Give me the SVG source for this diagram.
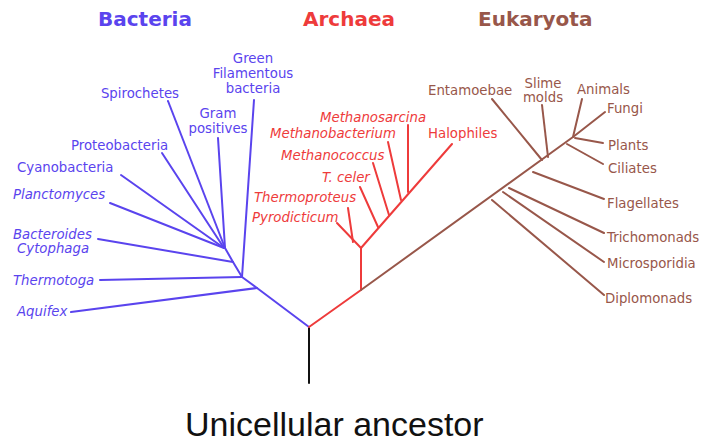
<svg xmlns="http://www.w3.org/2000/svg" width="707" height="443" viewBox="0 0 707 443">
<style>
.t{font-family:"DejaVu Sans",sans-serif;font-size:13.3px}
.i{font-style:italic}
.h{font-family:"DejaVu Sans",sans-serif;font-size:20px;font-weight:bold}
.b{fill:#5a44ee}.r{fill:#ee3b3b}.e{fill:#98574a}
.lb{stroke:#5a44ee}.lr{stroke:#ee3b3b}.le{stroke:#98574a}
line,polyline{stroke-width:2;fill:none;stroke-linecap:round;stroke-linejoin:round}
</style>
<rect width="707" height="443" fill="#ffffff"/>
<g id="connectors">
<line x1="309" y1="327" x2="309" y2="383" stroke="#111111"/>
<polyline class="lb" points="309,327 257,288 242,277 233,262 225,248"/>
<line class="lb" x1="254" y1="100" x2="242" y2="277"/>
<line class="lb" x1="218" y1="138" x2="225" y2="248"/>
<line class="lb" x1="168" y1="101" x2="225" y2="248"/>
<line class="lb" x1="162" y1="153" x2="224" y2="248"/>
<line class="lb" x1="121" y1="175" x2="224" y2="248"/>
<line class="lb" x1="110" y1="203" x2="224" y2="248"/>
<line class="lb" x1="98" y1="239" x2="233" y2="262"/>
<line class="lb" x1="100" y1="280" x2="242" y2="277"/>
<line class="lb" x1="71" y1="312" x2="257" y2="288"/>
<polyline class="lr" points="309,327 361,290 361,248 452,144"/>
<line class="lr" x1="337" y1="223" x2="361" y2="248"/>
<line class="lr" x1="348" y1="208" x2="353" y2="242"/>
<line class="lr" x1="360" y1="187" x2="378" y2="227"/>
<line class="lr" x1="373" y1="163" x2="389" y2="215"/>
<line class="lr" x1="388" y1="142" x2="401" y2="200"/>
<line class="lr" x1="408" y1="125" x2="408" y2="192"/>
<polyline class="le" points="361,290 573,137 605,112"/>
<line class="le" x1="492" y1="99" x2="542" y2="160"/>
<line class="le" x1="542" y1="105" x2="548" y2="157"/>
<line class="le" x1="582" y1="99" x2="573" y2="137"/>
<line class="le" x1="603" y1="143" x2="575" y2="138"/>
<line class="le" x1="603" y1="164" x2="567" y2="144"/>
<line class="le" x1="604" y1="199" x2="533" y2="172"/>
<line class="le" x1="604" y1="233" x2="509" y2="188"/>
<line class="le" x1="604" y1="262" x2="503" y2="192"/>
<line class="le" x1="604" y1="295" x2="492" y2="200"/>
</g>
<g id="titles">
<text class="h b" x="98" y="26">Bacteria</text>
<text class="h r" x="303" y="26">Archaea</text>
<text class="h e" x="478" y="26">Eukaryota</text>
</g>
<g id="bacteria" class="t b">
<text x="253" y="63" text-anchor="middle">Green</text>
<text x="253" y="78" text-anchor="middle">Filamentous</text>
<text x="253" y="93" text-anchor="middle">bacteria</text>
<text x="140" y="98" text-anchor="middle">Spirochetes</text>
<text x="218" y="118" text-anchor="middle">Gram</text>
<text x="218" y="133" text-anchor="middle">positives</text>
<text x="71" y="150">Proteobacteria</text>
<text x="17" y="172">Cyanobacteria</text>
<text class="i" x="13" y="199">Planctomyces</text>
<text class="i" x="13" y="239">Bacteroides</text>
<text class="i" x="17" y="253">Cytophaga</text>
<text class="i" x="13" y="285">Thermotoga</text>
<text class="i" x="17" y="316">Aquifex</text>
</g>
<g id="archaea" class="t r">
<text class="i" x="320" y="122">Methanosarcina</text>
<text class="i" x="270" y="138">Methanobacterium</text>
<text class="i" x="281" y="160">Methanococcus</text>
<text class="i" x="322" y="182">T. celer</text>
<text class="i" x="254" y="202">Thermoproteus</text>
<text class="i" x="252" y="222">Pyrodicticum</text>
<text x="428" y="138">Halophiles</text>
</g>
<g id="eukaryota" class="t e">
<text x="428" y="95">Entamoebae</text>
<text x="543" y="88" text-anchor="middle">Slime</text>
<text x="543" y="102" text-anchor="middle">molds</text>
<text x="577" y="94">Animals</text>
<text x="607" y="113">Fungi</text>
<text x="608" y="150">Plants</text>
<text x="608" y="173">Ciliates</text>
<text x="607" y="208">Flagellates</text>
<text x="607" y="242">Trichomonads</text>
<text x="607" y="268">Microsporidia</text>
<text x="605" y="303">Diplomonads</text>
</g>
<g id="ancestor">
<text x="185" y="436" font-family="Liberation Sans, Arial, sans-serif" font-size="34" fill="#111111">Unicellular ancestor</text>
</g>
</svg>
